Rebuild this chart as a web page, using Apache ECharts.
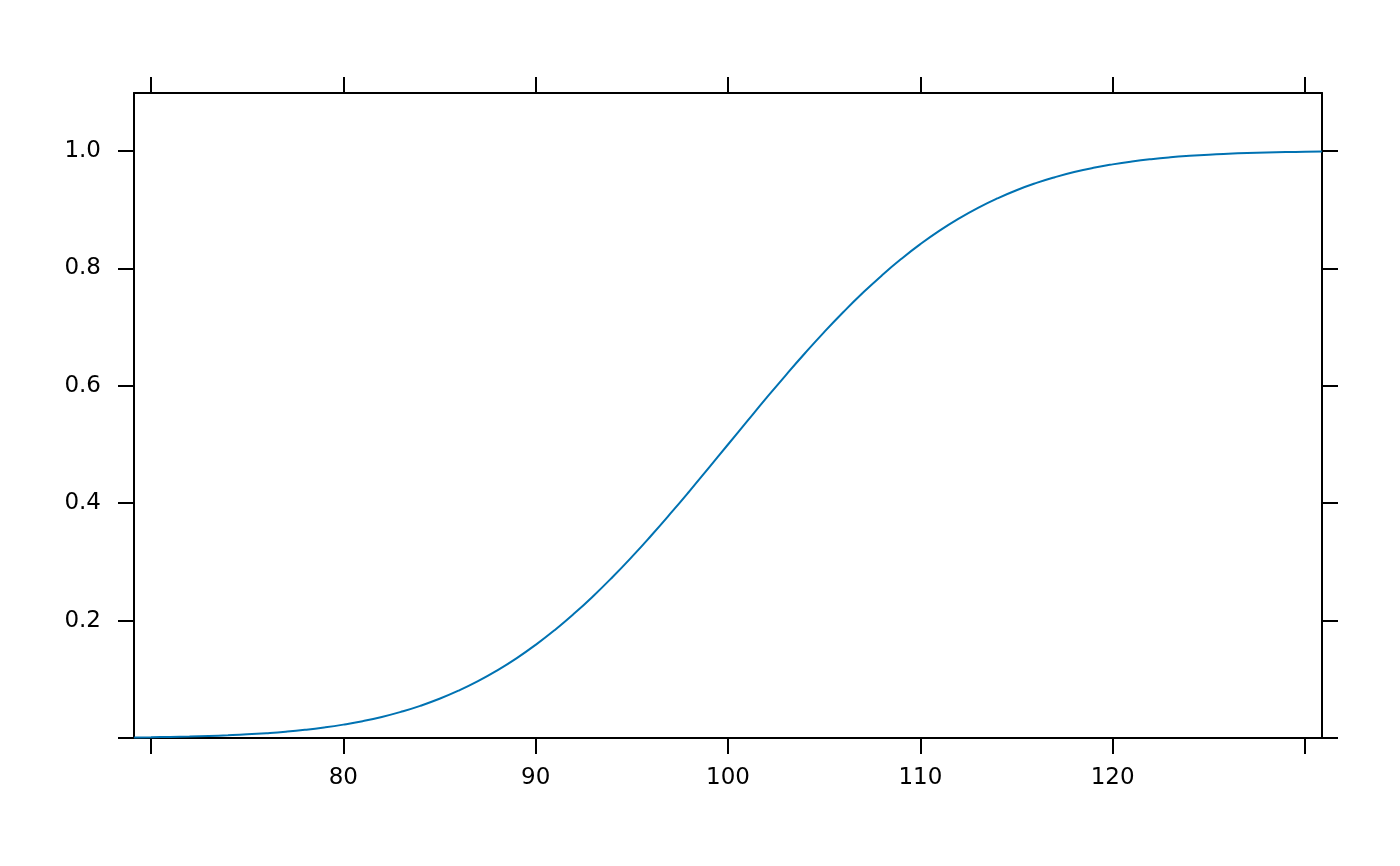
<!DOCTYPE html>
<html>
<head>
<meta charset="utf-8">
<script src="https://cdn.jsdelivr.net/npm/echarts@6/dist/echarts.min.js"></script>
<style>html,body{margin:0;padding:0;background:#fff}#c{width:1400px;height:866px}</style>
</head>
<body>
<div id="c"></div>
<script>
// Values (cumulative curve)
const xValues = [69.12,70,71,72,73,74,75,76,77,78,79,80,81,82,83,84,85,86,87,88,89,90,91,92,93,94,95,96,97,98,99,100,101,102,103,104,105,106,107,108,109,110,111,112,113,114,115,116,117,118,119,120,121,122,123,124,125,126,127,128,129,130,130.88];
const yValues = [0.0010,0.0013,0.0019,0.0026,0.0035,0.0047,0.0062,0.0082,0.0107,0.0139,0.0179,0.0228,0.0287,0.0359,0.0446,0.0548,0.0668,0.0808,0.0968,0.1151,0.1357,0.1587,0.1841,0.2119,0.2420,0.2743,0.3085,0.3446,0.3821,0.4207,0.4602,0.5000,0.5398,0.5793,0.6179,0.6554,0.6915,0.7257,0.7580,0.7881,0.8159,0.8413,0.8643,0.8849,0.9032,0.9192,0.9332,0.9452,0.9554,0.9641,0.9713,0.9772,0.9821,0.9861,0.9893,0.9918,0.9938,0.9953,0.9965,0.9974,0.9981,0.9987,0.9990];
const xTicks = [70,80,90,100,110,120,130];
const xLabels = [80,90,100,110,120];
const yTicks = [0,0.2,0.4,0.6,0.8,1.0];
const yLabels = [0.2,0.4,0.6,0.8,1.0];

const xMin = 69.116, xMax = 130.884, yMin = 0, yMax = 1.0988;
const font = 'DejaVu Sans';
const lineStyle = {color:'#000', width:2};
const tickStyle = {length:16, lineStyle:{color:'#000', width:2}};

const chart = echarts.init(document.getElementById('c'), null, {renderer:'canvas'});
const mkX = (pos, showLabel) => ({
  type:'value', position:pos, min:xMin, max:xMax,
  axisLine:{show:true, onZero:false, lineStyle},
  axisTick:{show:true, inside:false, customValues:xTicks, ...tickStyle},
  axisLabel:{show:showLabel, customValues:xLabels, margin:29, fontFamily:font, fontSize:23, color:'#000'},
  splitLine:{show:false}
});
const mkY = (pos, showLabel) => ({
  type:'value', position:pos, min:yMin, max:yMax,
  axisLine:{show:true, onZero:false, lineStyle},
  axisTick:{show:true, inside:false, customValues:yTicks, ...tickStyle},
  axisLabel:{show:showLabel, customValues:yLabels, margin:33, fontFamily:font, fontSize:23, color:'#000',
    formatter:v=>v.toFixed(1)},
  splitLine:{show:false}
});
chart.setOption({
  animation:false,
  backgroundColor:'#fff',
  grid:{left:134, right:78, top:93, bottom:128, containLabel:false},
  xAxis:[mkX('bottom', true), mkX('top', false)],
  yAxis:[mkY('left', true), mkY('right', false)],
  series:[{
    type:'line', data:xValues.map((x,i)=>[x,yValues[i]]),
    showSymbol:false, smooth:true, clip:true,
    lineStyle:{color:'#0072B2', width:2}
  }]
});
</script>
</body>
</html>
